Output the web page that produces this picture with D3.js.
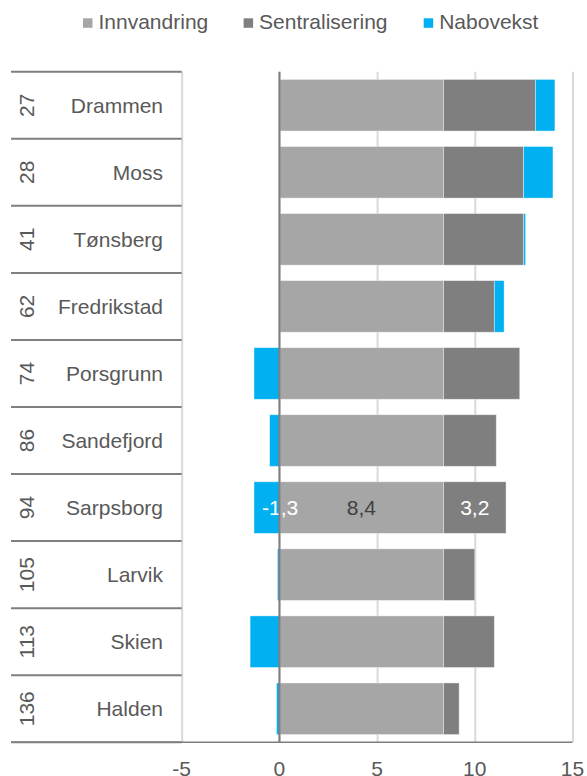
<!DOCTYPE html>
<html>
<head>
<meta charset="utf-8">
<script src="https://d3js.org/d3.v7.min.js"></script>
<style>
  body { margin: 0; background: #fff; }
  svg text { font-family: "Liberation Sans", Arial, sans-serif; }
</style>
</head>
<body>
<script>
// data
var ranks = [27, 28, 41, 62, 74, 86, 94, 105, 113, 136];
var names = ["Drammen", "Moss", "Tønsberg", "Fredrikstad", "Porsgrunn", "Sandefjord", "Sarpsborg", "Larvik", "Skien", "Halden"];
var innvandring = [8.4, 8.4, 8.4, 8.4, 8.4, 8.4, 8.4, 8.4, 8.4, 8.4];
var sentralisering = [4.7, 4.1, 4.1, 2.6, 3.9, 2.7, 3.2, 1.6, 2.6, 0.8];
var nabovekst = [1.0, 1.5, 0.1, 0.5, -1.3, -0.5, -1.3, -0.1, -1.5, -0.15];
var seriesNames = ["Innvandring", "Sentralisering", "Nabovekst"];
var colors = ["#a6a6a6", "#7f7f7f", "#00b0f0"];
var xTicks = [-5, 0, 5, 10, 15];
var labelled = "Sarpsborg";

var W = 587, H = 776;
var plotTop = 71.7, plotBottom = 742.3;

var svg = d3.select("body").append("svg")
    .attr("width", W)
    .attr("height", H);

var x = d3.scaleLinear().domain([-5, 15]).range([181.7, 572.5]);
var y = d3.scaleBand().domain(names).range([plotTop, plotBottom])
    .paddingInner(0.23).paddingOuter(0.115);

// rows as objects for the stack
var rows = names.map(function(n, i) {
    return { name: n, rank: ranks[i], Innvandring: innvandring[i],
             Sentralisering: sentralisering[i], Nabovekst: nabovekst[i] };
});
var stacked = d3.stack().keys(seriesNames).offset(d3.stackOffsetDiverging)(rows);

// gridlines
svg.append("g")
    .attr("transform", "translate(0," + plotBottom + ")")
    .call(d3.axisBottom(x).tickValues(xTicks).tickSize(-(plotBottom - plotTop)).tickFormat(""))
    .call(function(g) {
        g.select(".domain").remove();
        g.selectAll(".tick line").attr("stroke", "#d9d9d9").attr("stroke-width", 2);
    });

// bars
svg.append("g").selectAll("g")
    .data(stacked)
    .enter().append("g")
    .attr("fill", function(d, i) { return colors[i]; })
    .selectAll("rect")
    .data(function(d) { return d; })
    .enter().append("rect")
    .attr("x", function(d) { return x(Math.min(d[0], d[1])); })
    .attr("width", function(d) { return Math.abs(x(d[1]) - x(d[0])); })
    .attr("y", function(d) { return y(d.data.name); })
    .attr("height", y.bandwidth())
    .attr("stroke", "#fff")
    .attr("stroke-opacity", 0.5)
    .attr("stroke-width", 0.8);

// data labels for one row
var li = names.indexOf(labelled);
var fmt = function(v) { return d3.format(".1f")(v).replace(".", ",").replace("−", "-"); };
var ly = y(labelled) + y.bandwidth() / 2;
var lbl = svg.append("g").attr("font-size", 21).attr("dominant-baseline", "central");
lbl.append("text")
    .attr("x", x(nabovekst[li]) + 8).attr("y", ly)
    .attr("fill", "#fff")
    .text(fmt(nabovekst[li]));
lbl.append("text")
    .attr("x", x(innvandring[li] / 2)).attr("y", ly)
    .attr("text-anchor", "middle").attr("fill", "#404040")
    .text(fmt(innvandring[li]));
lbl.append("text")
    .attr("x", x(innvandring[li] + sentralisering[li] / 2)).attr("y", ly)
    .attr("text-anchor", "middle").attr("fill", "#fff")
    .text(fmt(sentralisering[li]));

// zero axis on top of bars
svg.append("line")
    .attr("x1", x(0)).attr("x2", x(0))
    .attr("y1", plotTop).attr("y2", plotBottom)
    .attr("stroke", "#7f7f7f").attr("stroke-width", 2);

// category table on the left
var step = y.step();
var bounds = d3.range(names.length + 1).map(function(i) { return plotTop + i * step; });
svg.append("g").selectAll("line")
    .data(bounds)
    .enter().append("line")
    .attr("x1", 11).attr("x2", x(-5))
    .attr("y1", function(d) { return d; }).attr("y2", function(d) { return d; })
    .attr("stroke", "#7f7f7f").attr("stroke-width", 2);

// bottom axis line
svg.append("line")
    .attr("x1", 11).attr("x2", x(15))
    .attr("y1", plotBottom).attr("y2", plotBottom)
    .attr("stroke", "#7f7f7f").attr("stroke-width", 1.6);

var rowMid = function(n) { return y(n) + y.bandwidth() / 2; };

svg.append("g").selectAll("text")
    .data(rows)
    .enter().append("text")
    .attr("transform", function(d) { return "translate(26," + rowMid(d.name) + ") rotate(-90)"; })
    .attr("text-anchor", "middle")
    .attr("dominant-baseline", "central")
    .attr("font-size", 21)
    .attr("fill", "#595959")
    .text(function(d) { return d.rank; });

svg.append("g").selectAll("text")
    .data(rows)
    .enter().append("text")
    .attr("x", 163)
    .attr("y", function(d) { return rowMid(d.name); })
    .attr("text-anchor", "end")
    .attr("dominant-baseline", "central")
    .attr("font-size", 21)
    .attr("fill", "#595959")
    .text(function(d) { return d.name; });

// x tick labels
svg.append("g").selectAll("text")
    .data(xTicks)
    .enter().append("text")
    .attr("x", function(d) { return x(d); })
    .attr("y", 776)
    .attr("text-anchor", "middle")
    .attr("font-size", 21)
    .attr("fill", "#595959")
    .text(function(d) { return d; });

// legend
var legX = [83, 243.6, 423.7];
var leg = svg.append("g").selectAll("g")
    .data(seriesNames)
    .enter().append("g")
    .attr("transform", function(d, i) { return "translate(" + legX[i] + ",0)"; });
leg.append("rect")
    .attr("x", 0).attr("y", 18.3).attr("width", 9.5).attr("height", 9.5)
    .attr("fill", function(d, i) { return colors[i]; });
leg.append("text")
    .attr("x", 15.5).attr("y", 29)
    .attr("font-size", 21)
    .attr("fill", "#595959")
    .text(function(d) { return d; });
</script>
</body>
</html>
